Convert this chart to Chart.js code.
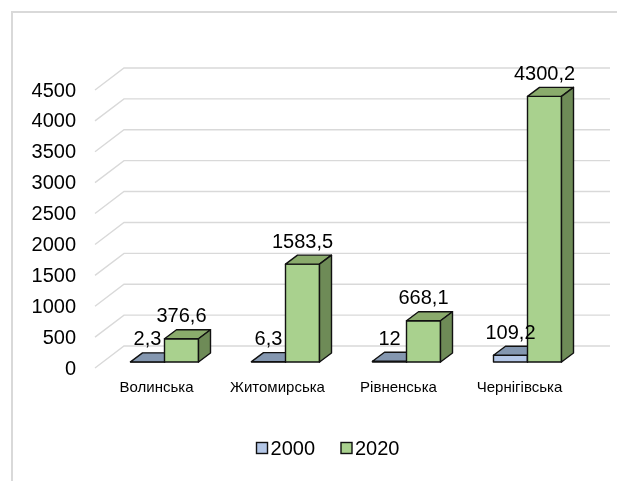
<!DOCTYPE html>
<html lang="uk">
<head>
<meta charset="utf-8">
<title>Регіони 2000 / 2020</title>
<script src="https://cdn.jsdelivr.net/npm/chart.js@4.4.1/dist/chart.umd.min.js"></script>
<style>
  html, body { margin: 0; padding: 0; background: #fff; }
  canvas { display: block; }
</style>
</head>
<body>
<canvas id="graficoRegiones" width="617" height="481"></canvas>
<script>
// ===================== DATOS =====================

const regiones    = ["Волинська", "Житомирська", "Рівненська", "Чернігівська"];
const anios       = ["2000", "2020"];
const valores2000 = [2.3, 6.3, 12, 109.2];
const valores2020 = [376.6, 1583.5, 668.1, 4300.2];
const ticksEjeY   = [0, 500, 1000, 1500, 2000, 2500, 3000, 3500, 4000, 4500];

// colores: frente, tapa, lateral
const coloresAzul  = { frente: "#b4c7e7", tapa: "#8497b0", lado: "#6f7f99" };
const coloresVerde = { frente: "#a9d18e", tapa: "#8aab6c", lado: "#6e8b57" };
const coloresSerie = [coloresAzul, coloresVerde];

const fuente = "'Liberation Sans', Arial, sans-serif";

// profundidad de las barras y de la rejilla (pseudo 3D)
const barraDX = 12, barraDY = 9;
const rejillaDX = 29, rejillaDY = 22;
const frenteDX = -9, frenteDY = 6;

// ===================== PLUGINS =====================

const marcoPlugin = {
  id: "marco",
  beforeDraw(chart) {
    const ctx = chart.ctx;
    ctx.save();
    ctx.fillStyle = "#d9d9d9";
    ctx.fillRect(11, 11, 2, chart.height);
    ctx.fillRect(11, 11, chart.width, 2);
    ctx.restore();
  },
};

const rejillaPlugin = {
  id: "rejilla",
  beforeDatasetsDraw(chart) {
    const { ctx, chartArea, scales: { y } } = chart;
    const x0 = chartArea.left + frenteDX;
    ctx.save();
    ctx.strokeStyle = "#d9d9d9";
    ctx.lineWidth = 1.4;
    y.ticks.forEach(t => {
      const py = y.getPixelForValue(t.value) + frenteDY;
      ctx.beginPath();
      ctx.moveTo(x0, py);
      ctx.lineTo(x0 + rejillaDX, py - rejillaDY);
      ctx.lineTo(chartArea.right + frenteDX + rejillaDX + 2, py - rejillaDY);
      ctx.stroke();
    });
    ctx.restore();
  },
};

function dibujarCubo(ctx, bar, colores) {
  const { x, y, base, width } = bar.getProps(["x", "y", "base", "width"], true);
  const izq = x - width / 2, der = x + width / 2;

  // frente
  ctx.fillStyle = colores.frente;
  ctx.fillRect(izq, y, width, base - y);
  ctx.strokeRect(izq, y, width, base - y);

  // tapa
  ctx.beginPath();
  ctx.moveTo(izq, y);
  ctx.lineTo(izq + barraDX, y - barraDY);
  ctx.lineTo(der + barraDX, y - barraDY);
  ctx.lineTo(der, y);
  ctx.closePath();
  ctx.fillStyle = colores.tapa;
  ctx.fill();
  ctx.stroke();

  // lateral
  ctx.beginPath();
  ctx.moveTo(der, y);
  ctx.lineTo(der + barraDX, y - barraDY);
  ctx.lineTo(der + barraDX, base - barraDY);
  ctx.lineTo(der, base);
  ctx.closePath();
  ctx.fillStyle = colores.lado;
  ctx.fill();
  ctx.stroke();
}

const cubosPlugin = {
  id: "cubos",
  afterDatasetsDraw(chart) {
    const ctx = chart.ctx;
    const metas = chart.data.datasets.map((_, i) => chart.getDatasetMeta(i));

    ctx.save();
    ctx.strokeStyle = "#111";
    ctx.lineWidth = 1.4;
    ctx.lineJoin = "round";
    // por categoría: primero 2000, luego 2020 encima
    regiones.forEach((_, j) => {
      metas.forEach((meta, i) => dibujarCubo(ctx, meta.data[j], coloresSerie[i]));
    });

    // etiquetas de valores
    ctx.font = `20px ${fuente}`;
    ctx.fillStyle = "#000";
    ctx.textAlign = "center";
    ctx.textBaseline = "middle";
    chart.data.datasets.forEach((ds, i) => {
      metas[i].data.forEach((bar, j) => {
        const texto = String(ds.data[j]).replace(".", ",");
        ctx.fillText(texto, bar.x, bar.y - 22);
      });
    });
    ctx.restore();
  },
};

const leyendaPlugin = {
  id: "leyenda",
  afterDraw(chart) {
    const ctx = chart.ctx;
    const centro = 328, yTexto = 448, caja = 11, hueco = 3, separacion = 26;
    ctx.save();
    ctx.font = `20px ${fuente}`;
    ctx.textBaseline = "middle";
    ctx.textAlign = "left";
    const anchos = chart.data.datasets.map(ds => caja + hueco + ctx.measureText(ds.label).width);
    const total = anchos.reduce((a, b) => a + b, 0) + separacion * (anchos.length - 1);
    let x = centro - total / 2;
    chart.data.datasets.forEach((ds, i) => {
      ctx.fillStyle = coloresSerie[i].frente;
      ctx.fillRect(x, yTexto - caja / 2, caja, caja);
      ctx.strokeStyle = "#111";
      ctx.lineWidth = 1.4;
      ctx.strokeRect(x, yTexto - caja / 2, caja, caja);
      ctx.fillStyle = "#000";
      ctx.fillText(ds.label, x + caja + hueco, yTexto + 1);
      x += anchos[i] + separacion;
    });
    ctx.restore();
  },
};

// ===================== GRÁFICO =====================

function renderGrafico() {
  const canvas = document.getElementById("graficoRegiones");
  if (!canvas || typeof Chart === "undefined") return;

  new Chart(canvas.getContext("2d"), {
    type: "bar",
    data: {
      labels: regiones,
      datasets: [
        { label: anios[0], data: valores2000, backgroundColor: coloresAzul.frente },
        { label: anios[1], data: valores2020, backgroundColor: coloresVerde.frente },
      ],
    },
    options: {
      responsive: false,
      animation: false,
      layout: { padding: { left: 20, right: 29, top: 84, bottom: 13 } },
      datasets: { bar: { categoryPercentage: 0.562, barPercentage: 1.0 } },
      scales: {
        x: {
          grid: { display: false, drawTicks: false },
          border: { display: false },
          ticks: { color: "#000", font: { family: fuente, size: 15 }, padding: 17, labelOffset: -8 },
          afterFit: s => { s.height = 106; },
        },
        y: {
          min: 0,
          max: 4500,
          afterBuildTicks: s => { s.ticks = ticksEjeY.map(v => ({ value: v })); },
          grid: { display: false, drawTicks: false },
          border: { display: false },
          ticks: {
            color: "#000",
            font: { family: fuente, size: 20 },
            padding: 28,
            labelOffset: 7,
            callback: v => String(v),
          },
          afterFit: s => { s.width = 84; },
        },
      },
      plugins: {
        legend: { display: false },
        tooltip: { enabled: false },
      },
    },
    plugins: [marcoPlugin, rejillaPlugin, cubosPlugin, leyendaPlugin],
  });
}

document.addEventListener("DOMContentLoaded", renderGrafico);
</script>
</body>
</html>
